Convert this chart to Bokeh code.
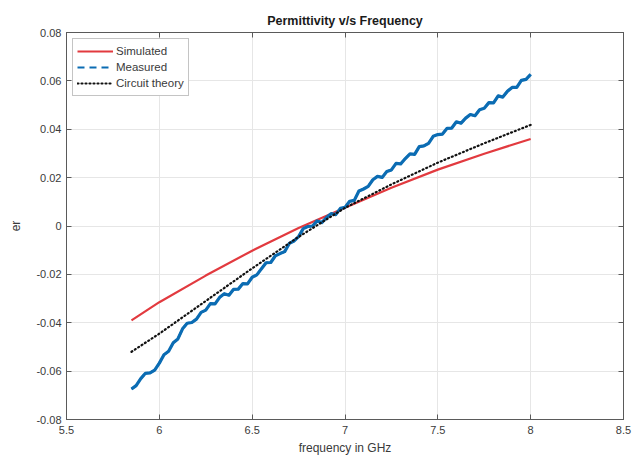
from bokeh.plotting import figure
from bokeh.models import Range1d, LinearAxis, FixedTicker, Legend, LegendItem, CustomJSTickFormatter
from bokeh.embed import file_html
from bokeh.resources import INLINE

# ---- data ----
freq_sim = [5.85, 6.0, 6.25, 6.5, 6.75, 7.0, 7.25, 7.5, 7.75, 8.0]
er_sim = [-0.039, -0.0315, -0.0205, -0.0102, -0.0008, 0.0075, 0.0158, 0.0233, 0.0299, 0.0360]

freq_ct = [5.85, 6.0, 6.25, 6.5, 6.75, 7.0, 7.25, 7.5, 7.75, 8.0]
er_ct = [-0.052, -0.0445, -0.031, -0.0175, -0.0045, 0.0075, 0.0172, 0.0262, 0.0342, 0.0418]

freq_meas = [5.850, 5.875, 5.900, 5.925, 5.950, 5.975, 6.000, 6.025, 6.050, 6.075,
             6.100, 6.125, 6.150, 6.175, 6.200, 6.225, 6.250, 6.275, 6.300, 6.325,
             6.350, 6.375, 6.400, 6.425, 6.450, 6.475, 6.500, 6.525, 6.550, 6.575,
             6.600, 6.625, 6.650, 6.675, 6.700, 6.725, 6.750, 6.775, 6.800, 6.825,
             6.850, 6.875, 6.900, 6.925, 6.950, 6.975, 7.000, 7.025, 7.050, 7.075,
             7.100, 7.125, 7.150, 7.175, 7.200, 7.225, 7.250, 7.275, 7.300, 7.325,
             7.350, 7.375, 7.400, 7.425, 7.450, 7.475, 7.500, 7.525, 7.550, 7.575,
             7.600, 7.625, 7.650, 7.675, 7.700, 7.725, 7.750, 7.775, 7.800, 7.825,
             7.850, 7.875, 7.900, 7.925, 7.950, 7.975, 8.000]
er_meas = [-0.0674, -0.0660, -0.0631, -0.0609, -0.0607, -0.0596, -0.0567, -0.0532, -0.0518, -0.0483,
           -0.0467, -0.0425, -0.0402, -0.0399, -0.0385, -0.0357, -0.0348, -0.0321, -0.0322, -0.0295,
           -0.0280, -0.0286, -0.0262, -0.0261, -0.0238, -0.0239, -0.0212, -0.0202, -0.0177, -0.0152,
           -0.0151, -0.0123, -0.0114, -0.0106, -0.0072, -0.0062, -0.0044, -0.0011, -0.0002, 0.0000,
           0.0021, 0.0014, 0.0035, 0.0051, 0.0047, 0.0073, 0.0077, 0.0102, 0.0106, 0.0145,
           0.0153, 0.0164, 0.0191, 0.0205, 0.0201, 0.0225, 0.0232, 0.0259, 0.0257, 0.0279,
           0.0298, 0.0296, 0.0328, 0.0331, 0.0342, 0.0371, 0.0378, 0.0380, 0.0404, 0.0405,
           0.0431, 0.0425, 0.0446, 0.0461, 0.0456, 0.0481, 0.0487, 0.0510, 0.0509, 0.0538,
           0.0533, 0.0557, 0.0573, 0.0573, 0.0602, 0.0606, 0.0627]

x_ticks = [5.5, 6.0, 6.5, 7.0, 7.5, 8.0, 8.5]
y_ticks = [-0.08, -0.06, -0.04, -0.02, 0.0, 0.02, 0.04, 0.06, 0.08]

FONT = "Liberation Sans"
TXT = "#3a3a3a"
AX = "#5a5a5a"

p = figure(width=635, height=462, output_backend="svg", toolbar_location=None,
           x_range=Range1d(5.5, 8.5), y_range=Range1d(-0.08, 0.08),
           min_border_left=66, min_border_right=12, min_border_top=32, min_border_bottom=43,
           x_axis_label="frequency in GHz", y_axis_label="er",
           title="Permittivity v/s Frequency")
p.background_fill_color = "white"
p.border_fill_color = "white"
p.outline_line_color = AX
p.outline_line_width = 1

p.title.align = "center"
p.title.text_font = FONT
p.title.text_font_size = "12.5px"
p.title.text_font_style = "bold"
p.title.text_color = "#1a1a1a"
p.title.offset = 0

xf = CustomJSTickFormatter(code="return String(Math.round(tick*10)/10);")
yf = CustomJSTickFormatter(code="if (Math.abs(tick) < 1e-9) {return '0';} return tick.toFixed(2);")
blank = CustomJSTickFormatter(code="return '';")

for ax, tk, fm in [(p.xaxis[0], x_ticks, xf), (p.yaxis[0], y_ticks, yf)]:
    ax.ticker = FixedTicker(ticks=tk)
    ax.formatter = fm
    ax.major_tick_in = 5
    ax.major_tick_out = 0
    ax.minor_tick_line_color = None
    ax.axis_line_color = AX
    ax.major_tick_line_color = AX
    ax.major_label_text_font = FONT
    ax.major_label_text_font_size = "11px"
    ax.major_label_text_color = TXT
    ax.axis_label_text_font = FONT
    ax.axis_label_text_font_size = "12px"
    ax.axis_label_text_font_style = "normal"
    ax.axis_label_text_color = TXT
p.xaxis[0].major_label_standoff = 6
p.xaxis[0].axis_label_standoff = 4
p.yaxis[0].major_label_standoff = 5
p.yaxis[0].axis_label_standoff = 10

# box-style ticks on top and right
top = LinearAxis(ticker=FixedTicker(ticks=x_ticks), formatter=blank,
                 major_tick_in=5, major_tick_out=0, minor_tick_line_color=None,
                 axis_line_color=AX, major_tick_line_color=AX, major_label_standoff=0)
right = LinearAxis(ticker=FixedTicker(ticks=y_ticks), formatter=blank,
                   major_tick_in=5, major_tick_out=0, minor_tick_line_color=None,
                   axis_line_color=AX, major_tick_line_color=AX, major_label_standoff=0)
p.add_layout(top, "above")
p.add_layout(right, "right")

p.grid.grid_line_color = "#e6e6e6"
p.grid.grid_line_width = 1
p.xgrid.ticker = FixedTicker(ticks=x_ticks)
p.ygrid.ticker = FixedTicker(ticks=y_ticks)

BLUE = "#0b6cb3"
r_sim = p.line(freq_sim, er_sim, line_color="#e23a3f", line_width=2.2)
# dashed key line sits fully underneath the solid measured trace (used for the legend)
r_meas_key = p.line(freq_meas, er_meas, line_color=BLUE, line_width=2.2, line_dash="7 5")
r_meas = p.line(freq_meas, er_meas, line_color=BLUE, line_width=3.2, line_join="round")
r_ct = p.line(freq_ct, er_ct, line_color="#111111", line_width=2.2, line_dash="1 3", line_cap="round")

legend = Legend(items=[LegendItem(label="Simulated", renderers=[r_sim]),
                       LegendItem(label="Measured", renderers=[r_meas_key]),
                       LegendItem(label="Circuit theory", renderers=[r_ct])],
                location="top_left")
legend.margin = 6
legend.padding = 4
legend.spacing = 0
legend.glyph_width = 36
legend.glyph_height = 16
legend.label_height = 16
legend.label_standoff = 3
legend.label_text_font = FONT
legend.label_text_font_size = "11.5px"
legend.label_text_color = TXT
legend.border_line_color = "#8a8a8a"
legend.border_line_width = 1
legend.background_fill_color = "white"
legend.background_fill_alpha = 1
p.add_layout(legend, "center")

open("out.html", "w").write(file_html(p, INLINE))
